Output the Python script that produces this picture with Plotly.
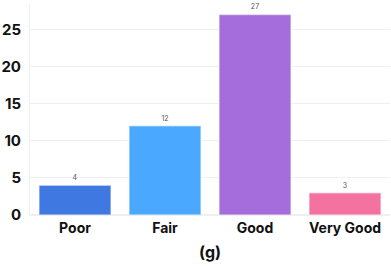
import plotly.graph_objects as go

categories = ["Poor", "Fair", "Good", "Very Good"]
counts = [4, 12, 27, 3]
colors = ["#3f78e0", "#4aa8ff", "#a56cdb", "#f472a0"]

fig = go.Figure(go.Bar(
    x=categories, y=counts,
    marker=dict(color=colors, line=dict(color="rgba(255,255,255,0.5)", width=1.5)),
    text=[str(c) for c in counts], textposition="outside",
    textfont=dict(size=7, color="#555", family="Inter"),
    cliponaxis=False,
))
fig.update_layout(
    width=391, height=266,
    margin=dict(l=30, r=1, t=4, b=51, autoexpand=False),
    paper_bgcolor="white", plot_bgcolor="white",
    bargap=0.2, showlegend=False,
    font=dict(family="Inter", color="#111"),
)
fig.update_xaxes(
    automargin=False,
    tickfont=dict(size=14, family="Inter", weight="bold", color="#111"),
    showgrid=False, showline=False, ticks="", ticklabelstandoff=3,
    title=dict(text="(g)", font=dict(size=16, family="Inter", weight="bold", color="#111"), standoff=11),
)
fig.update_yaxes(
    automargin=False,
    range=[0, 28.4], tickvals=[0, 5, 10, 15, 20, 25],
    tickfont=dict(size=15, family="Inter", weight="bold", color="#111"),
    showgrid=True, gridcolor="#efefef", gridwidth=1,
    zeroline=True, zerolinecolor="#efefef",
    showline=True, linecolor="#efefef", ticks="", ticklabelstandoff=5,
)
fig.write_html("out.html", config={"displayModeBar": False},
               post_script="document.body.style.margin='0';document.body.style.overflow='hidden';")
